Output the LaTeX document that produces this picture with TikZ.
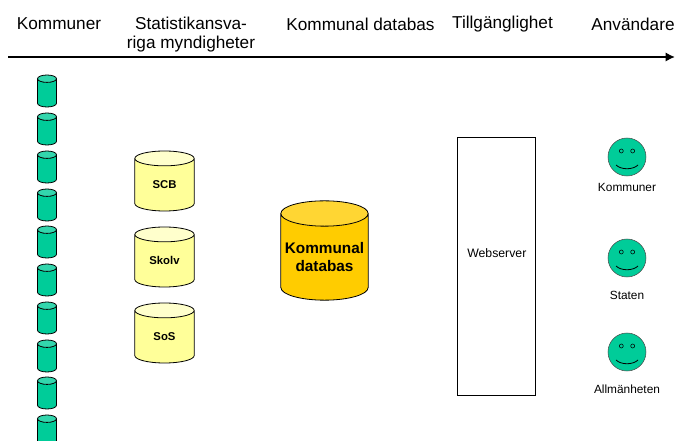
\documentclass[tikz,border=0pt]{standalone}
\usepackage{fontspec}
\setmainfont{Liberation Sans}
\usetikzlibrary{shapes.geometric,arrows.meta}
\definecolor{kommungreen}{HTML}{00CC99}
\definecolor{kommuntop}{HTML}{33D6AD}
\definecolor{myndyellow}{HTML}{FFFF99}
\definecolor{myndtop}{HTML}{FFFFCC}
\definecolor{dbgold}{HTML}{FFCC00}
\definecolor{dbtop}{HTML}{FFD633}

\begin{document}
\begin{tikzpicture}[x=0.75pt,y=-0.75pt,
    heading/.style ={font=\fontsize{12.9}{14.2}\selectfont, align=center, inner sep=0pt},
    database/.style ={cylinder, shape border rotate=90, draw=black, semithick, cylinder uses custom fill, inner sep=0pt, align=center, anchor=shape center},
    kommun/.style ={database, cylinder body fill=kommungreen, cylinder end fill=kommuntop, text width=14.25pt, minimum height=24pt, aspect=0.39},
    mynd/.style ={database, cylinder body fill=myndyellow, cylinder end fill=myndtop, text width=44.5pt, minimum height=45pt, aspect=0.25, font=\fontsize{8.5}{10}\selectfont\bfseries},
    central/.style ={database, cylinder body fill=dbgold, cylinder end fill=dbtop, text width=65.5pt, minimum height=74.5pt, aspect=0.29, font=\fontsize{11.5}{13.5}\selectfont\bfseries},
    face/.style ={circle, draw=black!70, fill=kommungreen, minimum size=28.5pt, inner sep=0pt},
    eye/.style ={circle, draw=black, minimum size=3pt, inner sep=0pt},
    small/.style ={font=\fontsize{8.9}{10}\selectfont, inner sep=0pt}]
   \useasboundingbox (0,0) rectangle (675,441);

   \node[heading] (H1) at (59,24)  {Kommuner};
   \node[heading] (H2) at (191,34.5)  {Statistikansva-\\riga myndigheter};
   \node[heading] (H3) at (360.5,24.5)  {Kommunal databas};
   \node[heading] (H4) at (502.5,24)  {Tillgänglighet};
   \node[heading] (H5) at (633,24.5)  {Användare};

   \coordinate (start) at (8,57);
   \coordinate (end) at (675,57);
   \draw[line width=2pt,-{Latex[length=7pt,width=7pt]}] (start) to (end);

   \foreach \n/\y in {1/91,2/129,3/167,4/205,5/242,6/280,7/318,8/356,9/393,10/431}
      \node[kommun] (K\n) at (47,\y) {};

   \node[mynd] (SCB) at (164.5,181)  {SCB};
   \node[mynd] (Skolv) at (164.5,257)  {Skolv};
   \node[mynd] (SoS) at (164.5,333)  {SoS};

   \node[central] (DB) at (324.5,250.5)  {Kommunal\\databas};

   \node[draw=black, semithick, fill=white, minimum width=58.5pt, minimum height=194pt, inner sep=0pt] (W) at (496,266.5)  {};
   \node[small, anchor=west, font=\fontsize{9.2}{10}\selectfont] (WT) at (467,253)  {Webserver};

   \foreach \n/\y/\t/\ty in {A/157/Kommuner/187,B/258/Staten/295,C/352/Allmänheten/389}{
      \node[face] (F\n) at (627,\y) {};
      \node[eye] (E\n) at (621.3,\y-6) {};
      \node[eye] (G\n) at (632.7,\y-6) {};
      \draw[semithick] (616,\y+8) .. controls (621,\y+13) and (633,\y+13) .. (638,\y+8);
      \node[small] (T\n) at (627,\ty) {\t};
   }
 \end{tikzpicture}
\end{document}
